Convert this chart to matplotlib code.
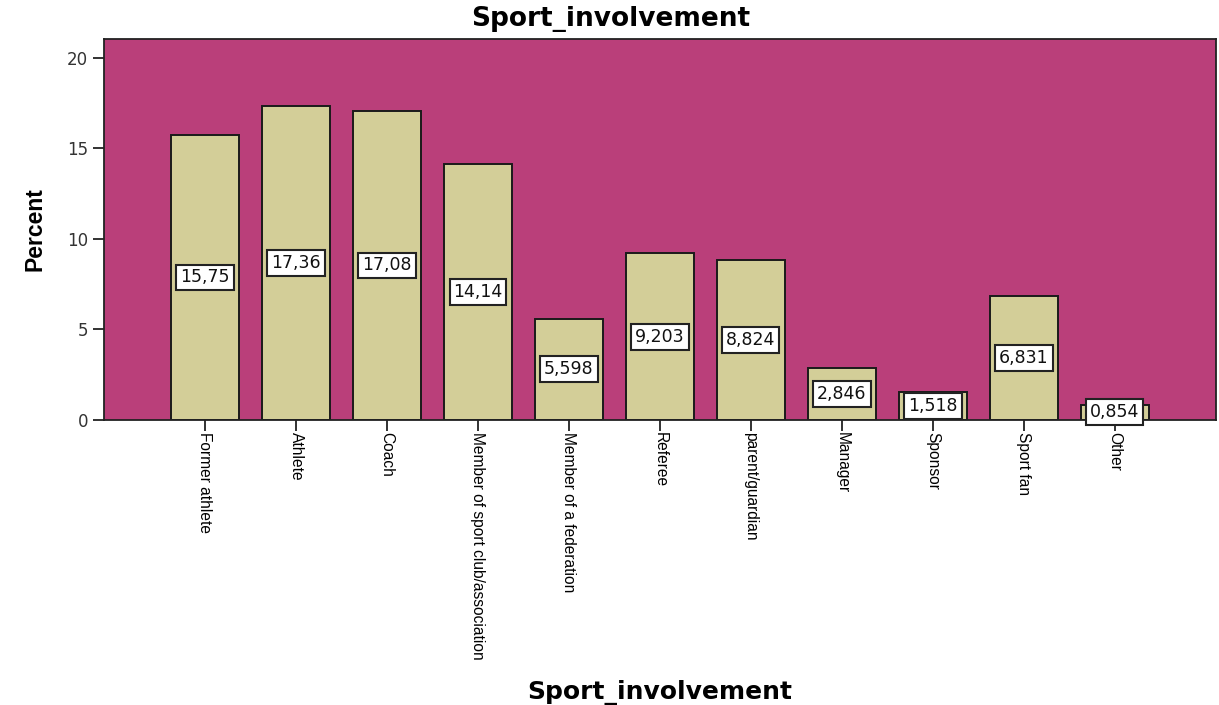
import matplotlib.pyplot as plt
import numpy as np

plt.rcParams['font.family'] = ['Liberation Sans', 'DejaVu Sans']

# Categories and percentages
categories = ['Former athlete', 'Athlete', 'Coach', 'Member of sport club/association',
              'Member of a federation', 'Referee', 'parent/guardian', 'Manager',
              'Sponsor', 'Sport fan', 'Other']
percent = [15.75, 17.36, 17.08, 14.14, 5.598, 9.203, 8.824, 2.846, 1.518, 6.831, 0.854]
value_labels = ['15,75', '17,36', '17,08', '14,14', '5,598', '9,203', '8,824',
                '2,846', '1,518', '6,831', '0,854']
yticks = [0, 5, 10, 15, 20]

fig = plt.figure(figsize=(12.19, 7.05), dpi=100)
ax = fig.add_axes([0.0853, 0.4043, 0.9122, 0.5404])
ax.set_facecolor('#BA3F7A')

x = np.arange(len(categories))
bars = ax.bar(x, percent, width=0.75, color='#D3CE98', edgecolor='#1a1a1a', linewidth=1.4, zorder=2)

# value boxes in the middle of each bar
for xi, v, lab in zip(x, percent, value_labels):
    ax.text(xi, v / 2, lab, ha='center', va='center', fontsize=12.5, family='DejaVu Sans',
            color='#111111', zorder=3,
            bbox=dict(boxstyle='square,pad=0.22', facecolor='white', edgecolor='#222222', linewidth=1.5))

ax.set_xlim(-1.11, 11.11)
ax.set_ylim(0, 21.05)
ax.set_yticks(yticks)
ax.set_yticklabels([str(t) for t in yticks], fontsize=12, family='DejaVu Sans', color='#333333')
ax.set_xticks(x)
ax.set_xticklabels(categories, rotation=-90, fontsize=11.2, ha='center', va='top')
ax.tick_params(axis='both', direction='out', length=8, width=1.3, color='#222222')
ax.tick_params(axis='x', pad=1)

for s in ax.spines.values():
    s.set_color('#222222')
    s.set_linewidth(1.3)

fig.text(0.501, 0.973, 'Sport_involvement', ha='center', va='center', fontsize=19,
         fontweight='bold', family='DejaVu Sans')
ax.set_ylabel('Percent', fontsize=16.5, fontweight='bold', labelpad=15)
fig.text(0.5415, 0.018, 'Sport_involvement', ha='center', va='center', fontsize=18,
         fontweight='bold', family='DejaVu Sans')

fig.savefig('out.png', dpi=100)
